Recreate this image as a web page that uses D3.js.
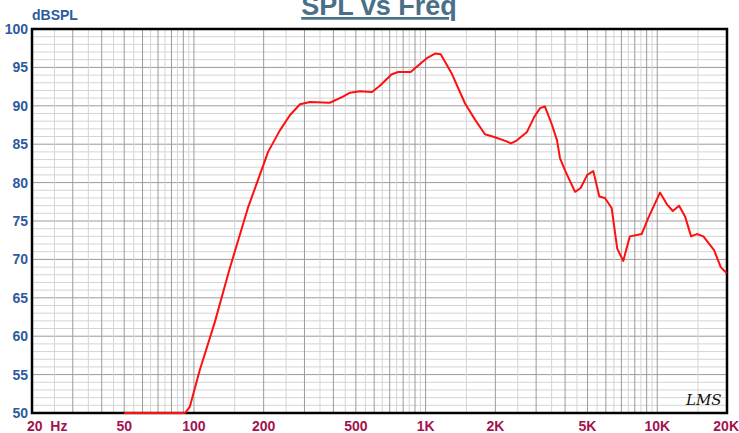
<!DOCTYPE html>
<html><head><meta charset="utf-8">
<script src="https://cdn.jsdelivr.net/npm/d3@7"></script>
<style>body{margin:0;background:#fff;}svg{display:block;}</style>
</head><body>
<svg id="c" width="739" height="433"></svg>
<script>
const title = "SPL vs Freq";
const yUnit = "dBSPL";
const yTicks = [50,55,60,65,70,75,80,85,90,95,100];
const xTickVals = [20,50,100,200,500,1000,2000,5000,10000,20000];
const xTickLabels = ["20  Hz","50","100","200","500","1K","2K","5K","10K","20K"];
const freq = [50,70,91.5,96,106,123,143,171,209,235,260,287,317,386,440,472,521,587,635,714,762,862,916,1012,1099,1162,1297,1480,1634,1804,1993,2224,2337,2480,2740,2938,3120,3276,3514,3692,3802,3998,4418,4670,4986,5296,5622,5944,6354,6718,7130,7618,8566,9150,10274,10990,11666,12420,13184,13996,14800,15814,17586,18794,19940];
const spl  = [50,50,50,50.8,55.6,61.8,68.9,76.7,84,86.8,88.8,90.2,90.5,90.4,91.2,91.7,91.9,91.8,92.6,94.1,94.4,94.4,95.1,96.2,96.8,96.7,94.2,90.3,88.2,86.3,85.9,85.4,85.1,85.5,86.6,88.5,89.7,89.9,87.5,85.5,83.2,81.6,78.8,79.3,81.0,81.5,78.2,78.0,76.7,71.4,69.8,73.0,73.3,75.4,78.7,77.2,76.3,77.0,75.6,73.0,73.3,73.0,71.2,69.0,68.2];

const svg = d3.select("#c");
const L=32, R=727, T=29, B=413;
const x = d3.scaleLog().domain([20,20000]).range([L,R]);
const y = d3.scaleLinear().domain([50,100]).range([B,T]);

const g = svg.append("g");
for (let v=51; v<100; v++) {
  if (v%5===0) continue;
  g.append("line").attr("x1",L).attr("x2",R).attr("y1",y(v)).attr("y2",y(v)).attr("stroke","#d4d4d4").attr("stroke-width",1);
}
yTicks.filter(v=>v>50&&v<100).forEach(v=>{
  g.append("line").attr("x1",L).attr("x2",R).attr("y1",y(v)).attr("y2",y(v)).attr("stroke","#9a9a9a").attr("stroke-width",1);
});
const minorV=[], majorV=[];
[10,100,1000,10000].forEach(d=>{
  for (let m=1.5;m<10;m+=1){ const f=m*d; if(f>20&&f<20000) minorV.push(f); }
  for (let m=1;m<10;m++){ const f=m*d; if(f>20&&f<20000) majorV.push(f); }
});
minorV.forEach(f=>g.append("line").attr("x1",x(f)).attr("x2",x(f)).attr("y1",T).attr("y2",B).attr("stroke","#d4d4d4"));
majorV.forEach(f=>g.append("line").attr("x1",x(f)).attr("x2",x(f)).attr("y1",T).attr("y2",B).attr("stroke","#9a9a9a"));

svg.append("rect").attr("x",L).attr("y",T).attr("width",R-L).attr("height",B-T).attr("fill","none").attr("stroke","#000").attr("stroke-width",2.5);

const line = d3.line().x((d,i)=>x(freq[i])).y((d,i)=>y(spl[i]));
svg.append("path").datum(spl).attr("d",line).attr("fill","none").attr("stroke","#ff1010").attr("stroke-width",2).attr("stroke-linejoin","round");

svg.selectAll("text.yt").data(yTicks).enter().append("text")
  .attr("x",L-4).attr("y",d=>y(d)+5).attr("text-anchor","end")
  .attr("font-family","Liberation Sans, Arial, sans-serif").attr("font-weight","bold").attr("font-size",14)
  .attr("fill","#2d5a9e").text(d=>d);
svg.append("text").attr("x",32).attr("y",20).attr("font-family","Liberation Sans, Arial, sans-serif")
  .attr("font-weight","bold").attr("font-size",14).attr("fill","#2d5a9e").text(yUnit);

svg.selectAll("text.xt").data(xTickVals).enter().append("text")
  .attr("x",(d,i)=> i===0 ? 27 : x(d)).attr("y",431)
  .attr("text-anchor",(d,i)=> i===0 ? "start" : (i===xTickVals.length-1 ? "end" : "middle"))
  .attr("dx",(d,i)=> i===xTickVals.length-1 ? 12 : 0)
  .attr("font-family","Liberation Sans, Arial, sans-serif").attr("font-weight","bold").attr("font-size",14)
  .attr("fill","#a3124f").style("white-space","pre").text((d,i)=>xTickLabels[i]);

svg.append("text").attr("x",379).attr("y",15).attr("text-anchor","middle")
  .attr("font-family","Liberation Sans, Arial, sans-serif").attr("font-weight","bold").attr("font-size",27)
  .attr("fill","#4a7089").attr("text-decoration","underline").text(title);

svg.append("text").attr("x",686).attr("y",405).attr("font-family","DejaVu Serif, serif").attr("font-style","italic")
  .attr("font-size",15).attr("fill","#111").text("LMS");
</script>
</body></html>
